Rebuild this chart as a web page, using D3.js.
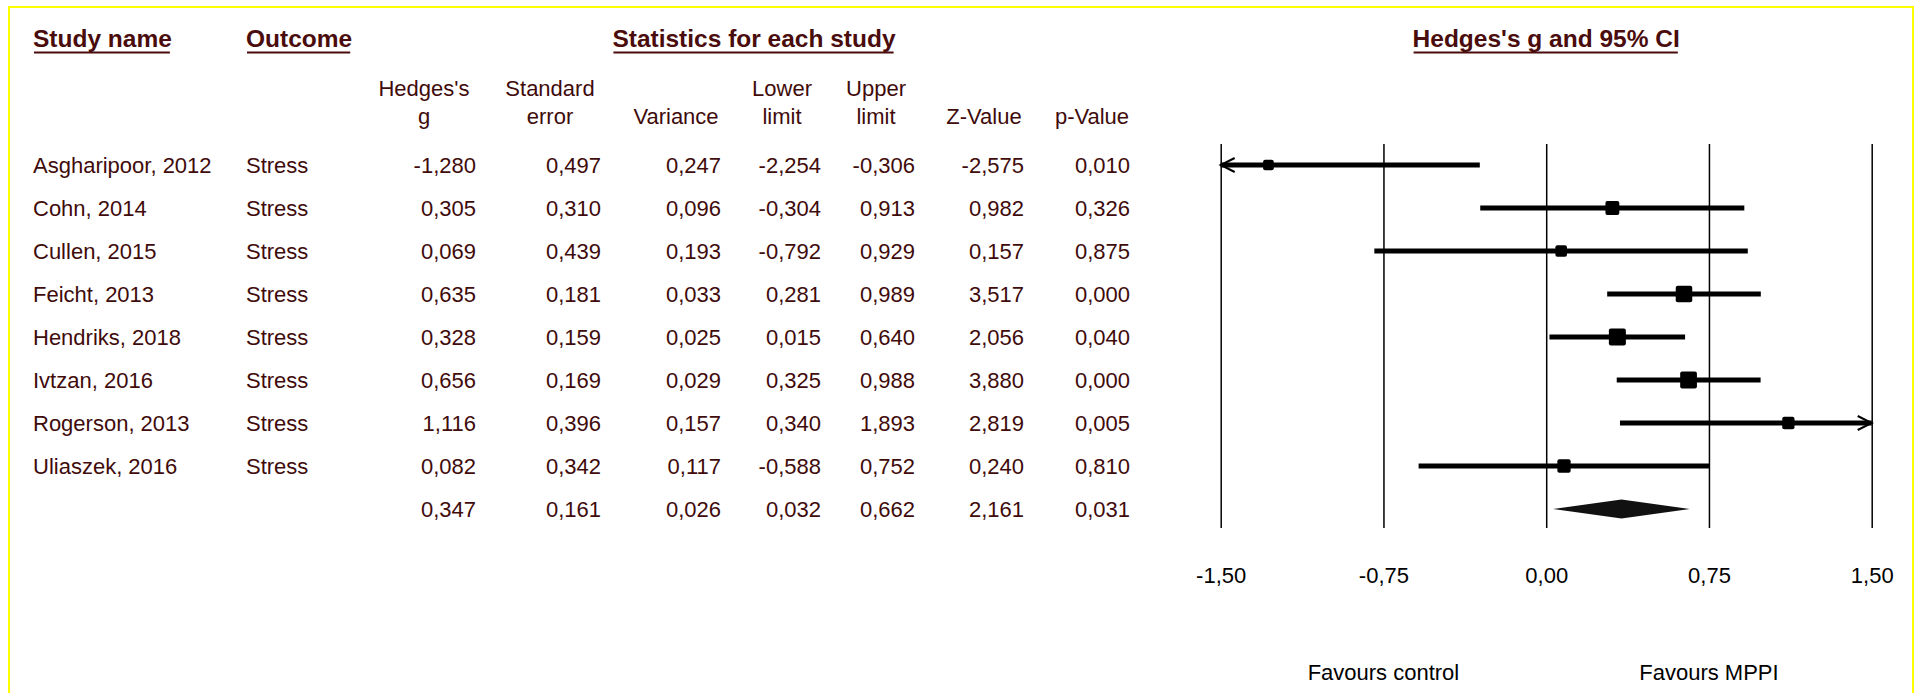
<!DOCTYPE html>
<html>
<head>
<meta charset="utf-8">
<script src="https://cdn.jsdelivr.net/npm/d3@7/dist/d3.min.js"></script>
<style>
  html, body { margin: 0; padding: 0; background: #ffffff; }
  svg { display: block; }
  text { font-family: "Liberation Sans", Arial, "DejaVu Sans", sans-serif; }
</style>
</head>
<body>
<script>
// Study-level results (Hedges's g, random-effects meta-analysis, outcome: stress)
const studies   = ["Asgharipoor, 2012", "Cohn, 2014", "Cullen, 2015", "Feicht, 2013",
                   "Hendriks, 2018", "Ivtzan, 2016", "Rogerson, 2013", "Uliaszek, 2016"];
const outcomes  = ["Stress", "Stress", "Stress", "Stress", "Stress", "Stress", "Stress", "Stress"];
const hedgesG   = [-1.280, 0.305, 0.069, 0.635, 0.328, 0.656, 1.116, 0.082];
const stdError  = [0.497, 0.310, 0.439, 0.181, 0.159, 0.169, 0.396, 0.342];
const variance  = [0.247, 0.096, 0.193, 0.033, 0.025, 0.029, 0.157, 0.117];
const lowerLim  = [-2.254, -0.304, -0.792, 0.281, 0.015, 0.325, 0.340, -0.588];
const upperLim  = [-0.306, 0.913, 0.929, 0.989, 0.640, 0.988, 1.893, 0.752];
const zValue    = [-2.575, 0.982, 0.157, 3.517, 2.056, 3.880, 2.819, 0.240];
const pValue    = [0.010, 0.326, 0.875, 0.000, 0.040, 0.000, 0.005, 0.810];

// Pooled estimate
const summaryStats = [0.347, 0.161, 0.026, 0.032, 0.662, 2.161, 0.031]; // g, SE, var, lower, upper, Z, p

// Column headings and axis
const columnHeads = [["Hedges's", "g"], ["Standard", "error"], ["", "Variance"],
                     ["Lower", "limit"], ["Upper", "limit"], ["", "Z-Value"], ["", "p-Value"]];
const axisTicks   = [-1.50, -0.75, 0.00, 0.75, 1.50];
const favourLabels = [["Favours control", -0.75], ["Favours MPPI", 0.75]];

// ---------------------------------------------------------------------------
const W = 1916, H = 693;
const textColor = "#3f0b0b";
const headColor = "#4a0c0c";

const locale = d3.formatLocale({ decimal: ",", thousands: ".", grouping: [3], currency: ["", ""], minus: "-" });
const f3 = locale.format(".3f");
const f2 = locale.format(".2f");

const svg = d3.select("body").append("svg").attr("width", W).attr("height", H);
svg.append("rect").attr("width", W).attr("height", H).attr("fill", "#ffffff");

// frame
svg.append("rect")
  .attr("x", 9).attr("y", 7).attr("width", 1904).attr("height", 700)
  .attr("fill", "none").attr("stroke", "#ffff00").attr("stroke-width", 2);

// row layout
const nRows = studies.length + 1;
const rowY = d3.scaleLinear().domain([0, nRows - 1]).range([165, 509]); // mark centre per row
const baseOffset = 8; // text baseline below mark centre

// column layout of the statistics table
const colRight  = [476, 601, 721, 821, 915, 1024, 1130];
const colHeadCx = [424, 550, 676, 782, 876, 984, 1092];

// --- group headings (bold, underlined)
function heading(txt, x, anchor) {
  const t = svg.append("text")
    .attr("x", x).attr("y", 47)
    .attr("text-anchor", anchor)
    .attr("font-size", 24.5).attr("font-weight", "bold")
    .attr("fill", headColor).text(txt);
  const w = t.node().getComputedTextLength();
  const x0 = anchor === "middle" ? x - w / 2 : x;
  svg.append("line")
    .attr("x1", x0 + 1).attr("x2", x0 + w - 2)
    .attr("y1", 52.5).attr("y2", 52.5)
    .attr("stroke", headColor).attr("stroke-width", 1.8);
}
heading("Study name", 33, "start");
heading("Outcome", 246, "start");
heading("Statistics for each study", 754, "middle");

// --- column headings
columnHeads.forEach((lines, i) => {
  lines.forEach((ln, j) => {
    if (!ln) return;
    svg.append("text")
      .attr("x", colHeadCx[i]).attr("y", j === 0 ? 96 : 124)
      .attr("text-anchor", "middle")
      .attr("font-size", 22).attr("fill", textColor)
      .text(ln);
  });
});

// --- table body
const tableRows = studies.map((s, i) => ({
  name: s, outcome: outcomes[i],
  vals: [hedgesG[i], stdError[i], variance[i], lowerLim[i], upperLim[i], zValue[i], pValue[i]]
}));
tableRows.push({ name: "", outcome: "", vals: summaryStats });

const rowsG = svg.append("g").attr("font-size", 22).attr("fill", textColor);
tableRows.forEach((r, i) => {
  const y = rowY(i) + baseOffset;
  rowsG.append("text").attr("x", 33).attr("y", y).text(r.name);
  rowsG.append("text").attr("x", 246).attr("y", y).text(r.outcome);
  r.vals.forEach((v, k) => {
    rowsG.append("text").attr("x", colRight[k]).attr("y", y)
      .attr("text-anchor", "end").text(f3(v));
  });
});

// --- forest plot
const x = d3.scaleLinear().domain([-1.5, 1.5]).range([1220.7, 1871.7]);
const lineTop = 144, lineBottom = 528;

heading("Hedges's g and 95% CI", x(0), "middle");

const axis = d3.axisBottom(x)
  .tickValues(axisTicks)
  .tickFormat(d => f2(d))
  .tickSizeInner(-(lineBottom - lineTop))
  .tickSizeOuter(0)
  .tickPadding(39);

const axG = svg.append("g").attr("transform", `translate(0,${lineBottom})`).call(axis);
axG.select(".domain").remove();
axG.selectAll(".tick line").attr("stroke", "#000").attr("stroke-width", 1.5);
axG.selectAll(".tick text")
  .attr("fill", "#000").attr("font-size", 22)
  .attr("font-family", "'Liberation Sans', Arial, sans-serif");

// random-effects weights (DerSimonian-Laird) for marker sizing
const wFixed = variance.map(v => 1 / v);
const sumW = d3.sum(wFixed);
const meanFixed = d3.sum(hedgesG.map((g, i) => g * wFixed[i])) / sumW;
const Q = d3.sum(hedgesG.map((g, i) => wFixed[i] * (g - meanFixed) ** 2));
const C = sumW - d3.sum(wFixed.map(w => w * w)) / sumW;
const tau2 = Math.max(0, (Q - (studies.length - 1)) / C);
const wRandom = variance.map(v => 1 / (v + tau2));
const size = d3.scaleSqrt().domain([0, d3.max(wRandom)]).range([0, 17]);

const plotG = svg.append("g");
const [xmin, xmax] = x.domain();
studies.forEach((s, i) => {
  const y = rowY(i);
  const lo = Math.max(lowerLim[i], xmin), hi = Math.min(upperLim[i], xmax);
  plotG.append("line")
    .attr("x1", x(lo)).attr("x2", x(hi)).attr("y1", y).attr("y2", y)
    .attr("stroke", "#000").attr("stroke-width", 5);
  if (lowerLim[i] < xmin) {
    plotG.append("polyline")
      .attr("points", `${x(xmin) + 14},${y - 7} ${x(xmin)},${y} ${x(xmin) + 14},${y + 7}`)
      .attr("fill", "none").attr("stroke", "#000").attr("stroke-width", 2);
  }
  if (upperLim[i] > xmax) {
    plotG.append("polyline")
      .attr("points", `${x(xmax) - 14},${y - 7} ${x(xmax)},${y} ${x(xmax) - 14},${y + 7}`)
      .attr("fill", "none").attr("stroke", "#000").attr("stroke-width", 2);
  }
  const s2 = size(wRandom[i]);
  plotG.append("rect")
    .attr("x", x(hedgesG[i]) - s2 / 2).attr("y", y - s2 / 2)
    .attr("width", s2).attr("height", s2)
    .attr("rx", 2).attr("fill", "#000");
});

// pooled diamond
const ys = rowY(nRows - 1);
plotG.append("path")
  .attr("d", `M${x(summaryStats[3])},${ys} L${x(summaryStats[0])},${ys - 9.5} L${x(summaryStats[4])},${ys} L${x(summaryStats[0])},${ys + 9.5} Z`)
  .attr("fill", "#111");

// favours labels
favourLabels.forEach(([t, v]) => {
  svg.append("text")
    .attr("x", x(v)).attr("y", 680)
    .attr("text-anchor", "middle")
    .attr("font-size", 22).attr("fill", "#000")
    .text(t);
});
</script>
</body>
</html>
